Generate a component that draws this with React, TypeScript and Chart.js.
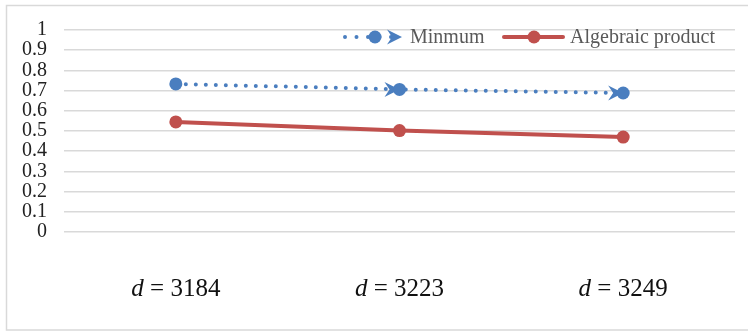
import { useEffect, useRef } from 'react';
import { Chart, registerables } from 'chart.js';

Chart.register(...registerables);

// Sample sizes along the x axis, shown as "d = …"
const categories = ['3184', '3223', '3249'];
const seriesNames = ['Minmum', 'Algebraic product'];
const minimumValues = [0.733, 0.706, 0.688];
const algebraicValues = [0.545, 0.502, 0.47];
const yMin = 0;
const yMax = 1;
const yStep = 0.1;

const BLUE = '#4a7ebf';
const RED = '#c0504d';
const SERIF = '"Liberation Serif", "Times New Roman", serif';

// Stealth-style arrowhead with its tip at (x, y), pointing right
function drawArrow(ctx: CanvasRenderingContext2D, x: number, y: number, color: string) {
  ctx.save();
  ctx.fillStyle = color;
  ctx.beginPath();
  ctx.moveTo(x, y);
  ctx.lineTo(x - 15, y - 7.5);
  ctx.lineTo(x - 10, y);
  ctx.lineTo(x - 15, y + 7.5);
  ctx.closePath();
  ctx.fill();
  ctx.restore();
}

const framePlugin = {
  id: 'frame',
  beforeDraw(chart: Chart) {
    const ctx = chart.ctx;
    ctx.save();
    ctx.strokeStyle = '#d9d9d9';
    ctx.lineWidth = 1.5;
    ctx.strokeRect(6.5, 5.5, 760, 324.5);
    ctx.restore();
  },
};

const arrowPlugin = {
  id: 'segmentArrows',
  beforeDatasetDraw(chart: Chart, args: any) {
    if (args.index !== 0) return;
    const meta = chart.getDatasetMeta(0);
    const pts = meta.data;
    for (let i = 1; i < pts.length; i++) {
      const p: any = pts[i];
      drawArrow(chart.ctx, p.x, p.y, BLUE);
    }
  },
};

const categoryLabelPlugin = {
  id: 'categoryLabels',
  afterDraw(chart: Chart) {
    const ctx = chart.ctx;
    const xScale = chart.scales.x;
    const baseline = 296;
    ctx.save();
    ctx.fillStyle = '#111';
    ctx.textBaseline = 'alphabetic';
    categories.forEach((c, i) => {
      const cx = xScale.getPixelForValue(i);
      const italicFont = `italic 25px ${SERIF}`;
      const plainFont = `25px ${SERIF}`;
      ctx.font = italicFont;
      const wD = ctx.measureText('d').width;
      ctx.font = plainFont;
      const rest = ' = ' + c;
      const wR = ctx.measureText(rest).width;
      const start = cx - (wD + wR) / 2;
      ctx.font = italicFont;
      ctx.textAlign = 'left';
      ctx.fillText('d', start, baseline);
      ctx.font = plainFont;
      ctx.fillText(rest, start + wD, baseline);
    });
    ctx.restore();
  },
};

const legendPlugin = {
  id: 'customLegend',
  afterDraw(chart: Chart) {
    const ctx = chart.ctx;
    const y = 37;
    ctx.save();
    // Minmum: dotted line, marker and arrowhead
    ctx.strokeStyle = BLUE;
    ctx.lineWidth = 4;
    ctx.lineCap = 'round';
    ctx.setLineDash([0, 11.5]);
    ctx.beginPath();
    ctx.moveTo(345, y);
    ctx.lineTo(392, y);
    ctx.stroke();
    ctx.setLineDash([]);
    ctx.fillStyle = BLUE;
    ctx.beginPath();
    ctx.arc(375, y, 6.5, 0, Math.PI * 2);
    ctx.fill();
    drawArrow(ctx, 402, y, BLUE);

    ctx.font = `20px ${SERIF}`;
    ctx.fillStyle = '#595959';
    ctx.textBaseline = 'middle';
    ctx.textAlign = 'left';
    ctx.fillText(seriesNames[0], 410, y + 1);

    // Algebraic product: solid line with marker
    ctx.strokeStyle = RED;
    ctx.lineWidth = 4;
    ctx.lineCap = 'round';
    ctx.beginPath();
    ctx.moveTo(504, y);
    ctx.lineTo(563, y);
    ctx.stroke();
    ctx.fillStyle = RED;
    ctx.beginPath();
    ctx.arc(534, y, 6.5, 0, Math.PI * 2);
    ctx.fill();
    ctx.fillStyle = '#595959';
    ctx.fillText(seriesNames[1], 570, y + 1);
    ctx.restore();
  },
};

export default function App() {
  const canvasRef = useRef<HTMLCanvasElement | null>(null);

  useEffect(() => {
    if (!canvasRef.current) return;
    const chart = new Chart(canvasRef.current, {
      type: 'line',
      data: {
        labels: categories.map((c) => 'd = ' + c),
        datasets: [
          {
            label: seriesNames[0],
            data: minimumValues,
            borderColor: BLUE,
            backgroundColor: BLUE,
            borderWidth: 4,
            borderDash: [0, 10],
            borderCapStyle: 'round',
            pointRadius: 6.5,
            pointBorderWidth: 0,
            pointBackgroundColor: BLUE,
            tension: 0,
          },
          {
            label: seriesNames[1],
            data: algebraicValues,
            borderColor: RED,
            backgroundColor: RED,
            borderWidth: 4,
            borderCapStyle: 'round',
            pointRadius: 6.5,
            pointBorderWidth: 0,
            pointBackgroundColor: RED,
            tension: 0,
          },
        ],
      },
      options: {
        responsive: false,
        animation: false,
        devicePixelRatio: 1,
        layout: { padding: { top: 30, right: 13, left: 0, bottom: 0 } },
        plugins: {
          legend: { display: false },
          tooltip: { enabled: false },
        },
        scales: {
          x: {
            offset: true,
            grid: { display: false },
            border: { display: false },
            ticks: { display: false },
            afterFit: (scale: any) => {
              scale.height = 99;
            },
          },
          y: {
            min: yMin,
            max: yMax,
            grid: { color: '#d9d9d9', lineWidth: 1.5, drawTicks: false },
            border: { display: false },
            ticks: {
              stepSize: yStep,
              autoSkip: false,
              padding: 17,
              color: '#222',
              font: { family: SERIF, size: 20 },
              callback: (v: any) => String(Number(Number(v).toFixed(1))),
            },
            afterFit: (scale: any) => {
              scale.width = 64;
            },
          },
        },
      },
      plugins: [framePlugin, arrowPlugin, categoryLabelPlugin, legendPlugin],
    });
    return () => chart.destroy();
  }, []);

  return (
    <div style={{ position: 'fixed', left: 0, top: 0, width: 748, height: 331, background: '#fff' }}>
      <canvas ref={canvasRef} width={748} height={331} style={{ display: 'block' }} />
    </div>
  );
}
